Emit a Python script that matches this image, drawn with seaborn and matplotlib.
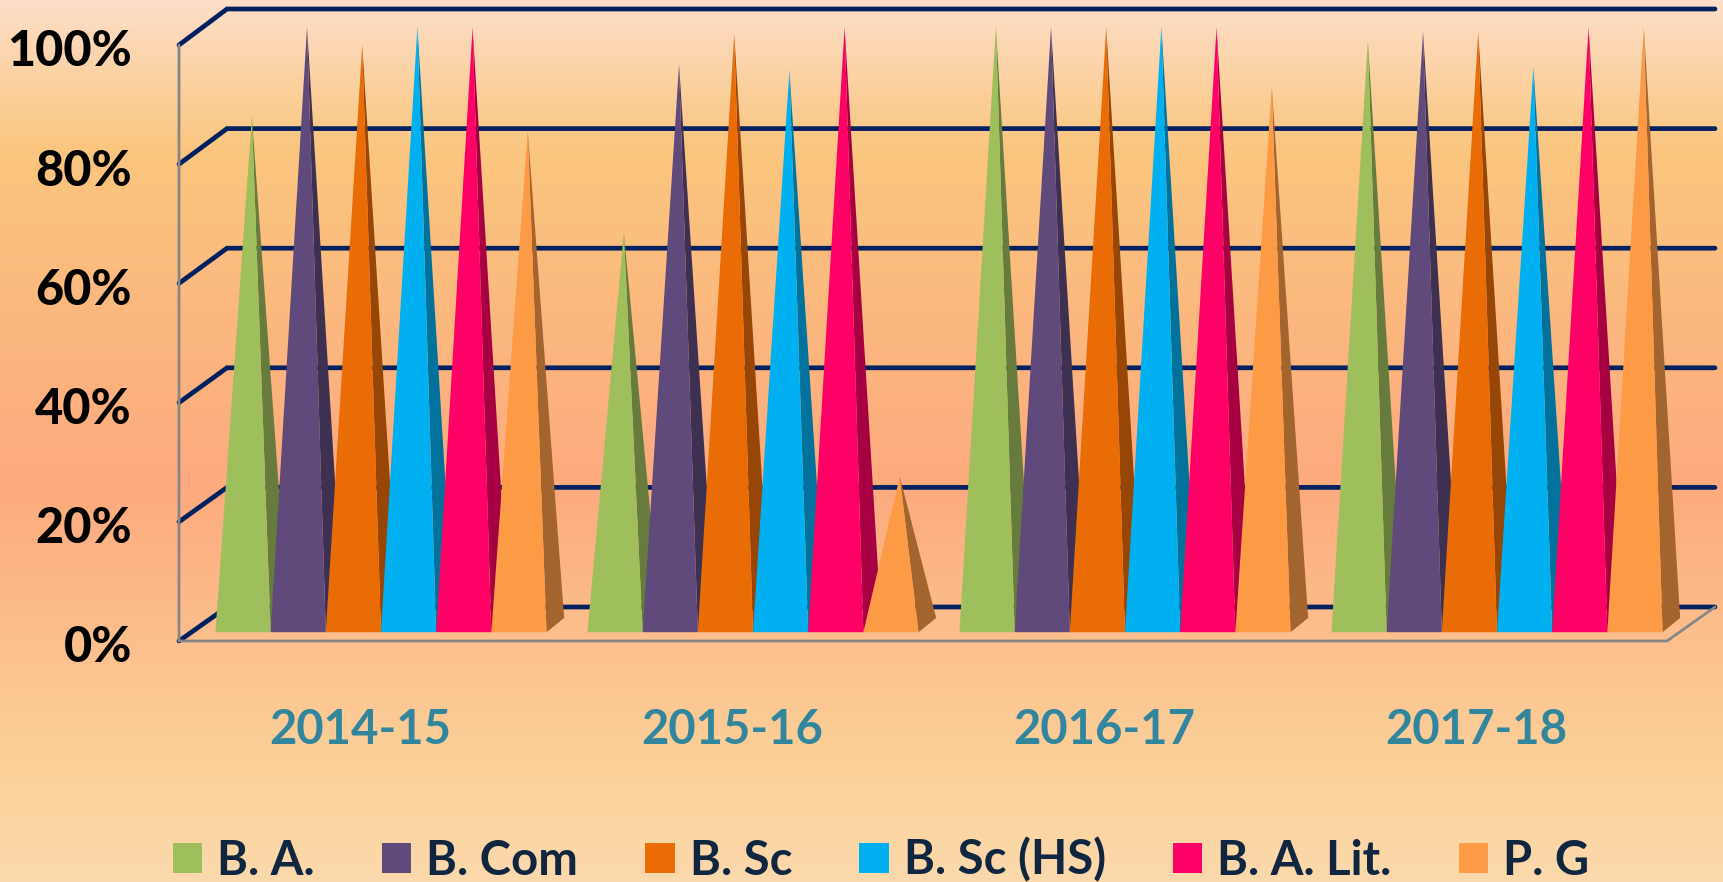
import seaborn as sns
import matplotlib.pyplot as plt
import pandas as pd
import numpy as np
from matplotlib.colors import LinearSegmentedColormap, to_rgb
from matplotlib.patches import Polygon
from matplotlib.transforms import ScaledTranslation

# Values
years = ['2014-15', '2015-16', '2016-17', '2017-18']
ba = [85, 65.5, 100, 97.7]
b_com = [100, 93.7, 100, 99.2]
b_sc = [97, 98.8, 100, 99.2]
b_sc_hs = [100, 92.7, 100, 93.3]
ba_lit = [100, 100, 100, 100]
pg = [82.6, 24.6, 90, 100]
y_ticks = [0, 20, 40, 60, 80, 100]

courses = ['B. A.', 'B. Com', 'B. Sc', 'B. Sc (HS)', 'B. A. Lit.', 'P. G']
colors = ['#9FBF5D', '#604A7B', '#E96C07', '#00B0F0', '#FF0066', '#FD9A46']

df = pd.DataFrame({'year': years, 'B. A.': ba, 'B. Com': b_com, 'B. Sc': b_sc,
                   'B. Sc (HS)': b_sc_hs, 'B. A. Lit.': ba_lit, 'P. G': pg})
df = df.melt(id_vars='year', var_name='course', value_name='value')

sns.set_style('white')
plt.rcParams['font.family'] = ['Lato', 'DejaVu Sans']
plt.rcParams['font.weight'] = 'bold'

W, H = 1723, 882
fig = plt.figure(figsize=(W / 100, H / 100), dpi=100)

# Background gradient
bg = fig.add_axes([0, 0, 1, 1], zorder=0)
cmap = LinearSegmentedColormap.from_list('bg', [
    (0, '#FDDEC8'), (0.17, '#FAC67F'), (0.55, '#FDAA7E'),
    (0.88, '#FBD29A'), (1, '#FCD9AC')])
bg.imshow(np.linspace(0, 1, 256).reshape(-1, 1), cmap=cmap, aspect='auto')
bg.axis('off')

# Front plane of the 3D box
left, right, top, bottom = 179, 1667, 45, 641
ax = fig.add_axes([left / W, 1 - bottom / H, (right - left) / W, (bottom - top) / H], zorder=1)
ax.patch.set_alpha(0)

sns.barplot(data=df, x='year', y='value', hue='course', hue_order=courses,
            palette=colors, width=0.89, saturation=1, ax=ax)
ax.set_xlim(-0.5, 3.5)
ax.set_ylim(0, 100)

# Pixel sizes in data units
px_x = 4 / (right - left)
px_y = 100 / (bottom - top)
back_dx = 48 * px_x
front_dx, front_dy = 16 * px_x, 8.8 * px_y
side_dx, side_dy = 17.6 * px_x, 14.3 * px_y

navy = '#002060'
grey = '#868686'

# Gridlines: diagonal on the side wall, then along the back wall (a touch of perspective)
for v in y_ticks:
    back_dy = (34 + 0.02 * v) * px_y
    ax.plot([-0.5, -0.5 + back_dx, 3.5 + back_dx], [v, v + back_dy, v + back_dy],
            color=navy, lw=3.4, solid_capstyle='round', solid_joinstyle='miter',
            clip_on=False, zorder=2)

# Floor edge and wall edge
ax.plot([-0.5, -0.5, 3.5, 3.5 + back_dx], [100, 0, 0, 34 * px_y], color=grey, lw=2,
        clip_on=False, zorder=3)

# Legend first, the flat bars are hidden after that
handles, labels = ax.get_legend_handles_labels()
leg = ax.legend(handles, labels, loc='lower left', bbox_to_anchor=(173 / W, 1 - 882.5 / H),
                bbox_transform=fig.transFigure, ncol=6, frameon=False, borderaxespad=0, borderpad=0,
                fontsize=34, labelcolor='#10253F', handlelength=0.62, handleheight=0.62,
                handletextpad=0.32, columnspacing=1.42)
for h in leg.legend_handles:
    h.set_edgecolor('none')

# Turn every bar into a cone
cones = []
for container, color in zip(ax.containers, colors):
    shade = tuple(c * 0.65 for c in to_rgb(color))
    for bar in container:
        cones.append((bar.get_x(), bar.get_width(), bar.get_height(), color, shade))
        bar.set_visible(False)

for i, (x, w, v, color, shade) in enumerate(sorted(cones, key=lambda c: c[0])):
    x0 = x + front_dx
    apex = (x0 + w / 2 + side_dx / 2, v + front_dy + side_dy / 2 + 2 * px_y)
    ax.add_patch(Polygon([apex, (x0 + w, front_dy), (x0 + w + side_dx, front_dy + side_dy)],
                         facecolor=shade, edgecolor='none', clip_on=False, zorder=4 + i * 0.01))
    ax.add_patch(Polygon([(x0, front_dy), (x0 + w, front_dy), apex],
                         facecolor=color, edgecolor='none', clip_on=False, zorder=4 + i * 0.01 + 0.005))

# Axis text
ax.set_xlabel('')
ax.set_ylabel('')
ax.set_yticks(y_ticks)
ax.set_yticklabels([f'{v}%' for v in y_ticks], fontsize=35, color='black', fontweight='black')
ax.tick_params(axis='y', length=0, pad=34)
ax.tick_params(axis='x', length=0, pad=48, labelsize=34, labelcolor='#31859C')
for t in ax.get_xticklabels():
    t.set_fontweight('bold')
    t.set_transform(t.get_transform() + ScaledTranslation(-5 / 100, 0, fig.dpi_scale_trans))
for t in ax.get_yticklabels():
    t.set_transform(t.get_transform() + ScaledTranslation(0, -3 / 100, fig.dpi_scale_trans))
sns.despine(ax=ax, left=True, bottom=True)

fig.savefig('out.png', dpi=100)
